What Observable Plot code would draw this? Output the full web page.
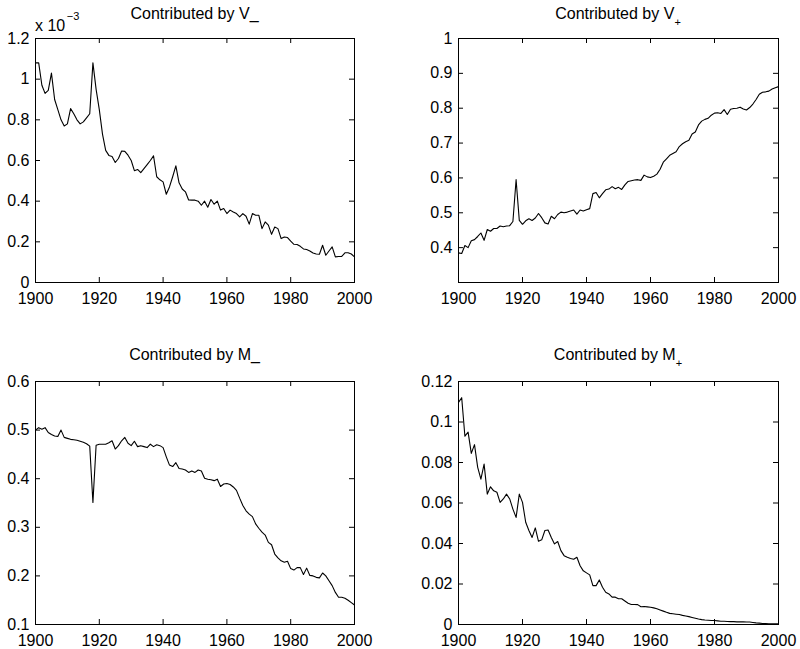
<!DOCTYPE html>
<html>
<head>
<meta charset="utf-8">
<script src="https://cdn.jsdelivr.net/npm/d3@7"></script>
<script src="https://cdn.jsdelivr.net/npm/@observablehq/plot@0.6"></script>
<style>
html, body { margin: 0; padding: 0; background: #fff; }
#chart { position: relative; width: 800px; height: 649px; overflow: hidden; background: #fff; }
.panel { position: absolute; }
.panel svg { display: block; }
</style>
</head>
<body>
<div id="chart"></div>
<script>
const FONT = '"Liberation Sans", Arial, Helvetica, sans-serif';

// x categories (years)
const years = d3.range(1900, 2001);
const xTicks = [1900, 1920, 1940, 1960, 1980, 2000];

// Contributed by V_  (values in units of 10^-3)
const vMinus = [
  1.08, 1.08, 0.97, 0.93, 0.945, 1.03, 0.90, 0.85, 0.80, 0.77,
  0.78, 0.855, 0.83, 0.80, 0.78, 0.79, 0.81, 0.83, 1.08, 0.95,
  0.85, 0.73, 0.65, 0.625, 0.62, 0.59, 0.61, 0.647, 0.645, 0.626,
  0.60, 0.55, 0.556, 0.54, 0.56, 0.58, 0.60, 0.623, 0.52, 0.505,
  0.495, 0.434, 0.47, 0.52, 0.574, 0.49, 0.46, 0.446, 0.406, 0.405,
  0.405, 0.40, 0.38, 0.40, 0.37, 0.408, 0.385, 0.40, 0.356, 0.364,
  0.339, 0.356, 0.347, 0.339, 0.323, 0.339, 0.326, 0.287, 0.339, 0.331,
  0.331, 0.265, 0.298, 0.282, 0.237, 0.273, 0.265, 0.216, 0.224, 0.221,
  0.203, 0.188, 0.187, 0.178, 0.165, 0.162, 0.155, 0.145, 0.14, 0.139,
  0.183, 0.134, 0.155, 0.175, 0.126, 0.128, 0.128, 0.146, 0.146, 0.14,
  0.126
];
const vMinusTicks = [0, 0.2, 0.4, 0.6, 0.8, 1, 1.2];

// Contributed by V+
const vPlus = [
  0.385, 0.383, 0.406, 0.400, 0.420, 0.423, 0.432, 0.442, 0.421, 0.452,
  0.447, 0.455, 0.455, 0.462, 0.460, 0.462, 0.463, 0.475, 0.595, 0.478,
  0.467, 0.477, 0.483, 0.478, 0.485, 0.498, 0.486, 0.471, 0.468, 0.490,
  0.483, 0.495, 0.502, 0.500, 0.502, 0.505, 0.508, 0.496, 0.508, 0.505,
  0.509, 0.512, 0.555, 0.558, 0.543, 0.555, 0.566, 0.568, 0.575, 0.569,
  0.573, 0.567, 0.580, 0.590, 0.592, 0.594, 0.595, 0.593, 0.608, 0.603,
  0.601, 0.605, 0.611, 0.625, 0.645, 0.655, 0.665, 0.670, 0.675, 0.690,
  0.698, 0.704, 0.708, 0.726, 0.732, 0.752, 0.763, 0.768, 0.771, 0.780,
  0.786, 0.787, 0.785, 0.796, 0.782, 0.797, 0.799, 0.800, 0.803, 0.798,
  0.795, 0.802, 0.812, 0.825, 0.840, 0.846, 0.847, 0.849, 0.855, 0.859,
  0.862
];
const vPlusTicks = [0.4, 0.5, 0.6, 0.7, 0.8, 0.9, 1];

// Contributed by M_
const mMinus = [
  0.500, 0.505, 0.502, 0.505, 0.495, 0.491, 0.488, 0.487, 0.500, 0.485,
  0.483, 0.481, 0.480, 0.479, 0.477, 0.475, 0.472, 0.467, 0.351, 0.469,
  0.471, 0.471, 0.471, 0.474, 0.478, 0.461, 0.468, 0.478, 0.485, 0.473,
  0.468, 0.477, 0.466, 0.468, 0.466, 0.464, 0.471, 0.466, 0.470, 0.468,
  0.464, 0.445, 0.428, 0.425, 0.433, 0.421, 0.420, 0.418, 0.413, 0.416,
  0.413, 0.418, 0.416, 0.401, 0.399, 0.398, 0.396, 0.399, 0.384, 0.389,
  0.390, 0.388, 0.383, 0.376, 0.360, 0.345, 0.334, 0.327, 0.322, 0.307,
  0.298, 0.290, 0.284, 0.269, 0.264, 0.245, 0.237, 0.231, 0.228, 0.230,
  0.215, 0.212, 0.217, 0.217, 0.203, 0.216, 0.201, 0.200, 0.197, 0.196,
  0.206, 0.200, 0.190, 0.180, 0.166, 0.156, 0.156, 0.154, 0.150, 0.145,
  0.140
];
const mMinusTicks = [0.1, 0.2, 0.3, 0.4, 0.5, 0.6];

// Contributed by M+
const mPlus = [
  0.1097, 0.112, 0.093, 0.095, 0.0845, 0.0888, 0.0776, 0.0718, 0.0792, 0.0644,
  0.068, 0.066, 0.0653, 0.0603, 0.062, 0.0644, 0.062, 0.057, 0.0529, 0.0644,
  0.0603, 0.0505, 0.0464, 0.043, 0.0477, 0.0411, 0.0418, 0.0464, 0.0467, 0.043,
  0.0398, 0.041, 0.0365, 0.034, 0.0332, 0.0326, 0.0322, 0.0332, 0.029, 0.0265,
  0.0255, 0.0245, 0.0192, 0.0192, 0.022, 0.0184, 0.0159, 0.0151, 0.0135, 0.0135,
  0.0127, 0.0127, 0.0116, 0.0105, 0.0099, 0.0099, 0.0098, 0.0088, 0.0089, 0.0087,
  0.0085, 0.0082, 0.0078, 0.0072, 0.0066, 0.006, 0.0055, 0.0053, 0.0051, 0.0049,
  0.0045, 0.0042, 0.0039, 0.0035, 0.0031, 0.0027, 0.0024, 0.0022, 0.0021, 0.002,
  0.002, 0.0018, 0.0016, 0.0016, 0.0015, 0.0014, 0.0014, 0.0013, 0.0013, 0.0013,
  0.0012, 0.0012, 0.001, 0.0008, 0.0007, 0.0005, 0.0005, 0.0004, 0.0004, 0.0003,
  0.0003
];
const mPlusTicks = [0, 0.02, 0.04, 0.06, 0.08, 0.1, 0.12];

const panels = [
  {values: vMinus, yDomain: [0, 1.2], yTicks: vMinusTicks, title: "Contributed by V_", sub: null,
   left: 0, top: 0, width: 400, height: 324, ml: 35, mr: 46, mt: 38, mb: 42, titleY: 19, multiplier: true},
  {values: vPlus, yDomain: [0.3, 1], yTicks: vPlusTicks, title: "Contributed by V", sub: "+",
   left: 400, top: 0, width: 400, height: 324, ml: 58, mr: 22, mt: 38, mb: 42, titleY: 19},
  {values: mMinus, yDomain: [0.1, 0.6], yTicks: mMinusTicks, title: "Contributed by M_", sub: null,
   left: 0, top: 324, width: 400, height: 325, ml: 35, mr: 46, mt: 57, mb: 25, titleY: 36},
  {values: mPlus, yDomain: [0, 0.12], yTicks: mPlusTicks, title: "Contributed by M", sub: "+",
   left: 400, top: 324, width: 400, height: 325, ml: 58, mr: 22, mt: 57, mb: 25, titleY: 36}
];

const chart = document.getElementById("chart");
const TICK = 5;

for (const p of panels) {
  const innerW = p.width - p.ml - p.mr;
  const innerH = p.height - p.mt - p.mb;
  const data = years.map((year, i) => ({year, value: p.values[i]}));
  const svg = Plot.plot({
    width: p.width,
    height: p.height,
    marginLeft: p.ml, marginRight: p.mr, marginTop: p.mt, marginBottom: p.mb,
    style: {fontFamily: FONT, fontSize: "16px", color: "black", background: "transparent", overflow: "visible"},
    x: {domain: [1900, 2000]},
    y: {domain: p.yDomain},
    marks: [
      Plot.axisX({ticks: xTicks, tickSize: 0, tickPadding: 10.5, tickFormat: d => String(d), label: null}),
      Plot.axisY({ticks: p.yTicks, tickSize: 0, tickPadding: 6, tickFormat: d => String(d), label: null}),
      Plot.tickX(xTicks, {x: d => d, insetTop: innerH - TICK, stroke: "black"}),
      Plot.tickX(xTicks, {x: d => d, insetBottom: innerH - TICK, stroke: "black"}),
      Plot.tickY(p.yTicks, {y: d => d, insetRight: innerW - TICK, stroke: "black"}),
      Plot.tickY(p.yTicks, {y: d => d, insetLeft: innerW - TICK, stroke: "black"}),
      Plot.line(data, {x: "year", y: "value", stroke: "black", strokeWidth: 1.1}),
      Plot.frame({stroke: "black"})
    ]
  });

  const s = d3.select(svg);
  const t = s.append("text")
    .attr("x", p.ml + innerW / 2)
    .attr("y", p.titleY)
    .attr("text-anchor", "middle")
    .attr("font-family", FONT)
    .attr("font-size", 16)
    .attr("fill", "black");
  t.append("tspan").text(p.title);
  if (p.sub) {
    t.append("tspan").attr("dy", 7).attr("font-size", 11).text(p.sub);
  }
  if (p.multiplier) {
    const m = s.append("text")
      .attr("x", p.ml)
      .attr("y", 31)
      .attr("text-anchor", "start")
      .attr("font-family", FONT)
      .attr("font-size", 16)
      .attr("fill", "black");
    m.append("tspan").text("x 10");
    m.append("tspan").attr("dx", 1.5).attr("dy", -11).attr("font-size", 11).text("\u22123");
  }

  const div = document.createElement("div");
  div.className = "panel";
  div.style.left = p.left + "px";
  div.style.top = p.top + "px";
  div.appendChild(svg);
  chart.appendChild(div);
}
</script>
</body>
</html>
